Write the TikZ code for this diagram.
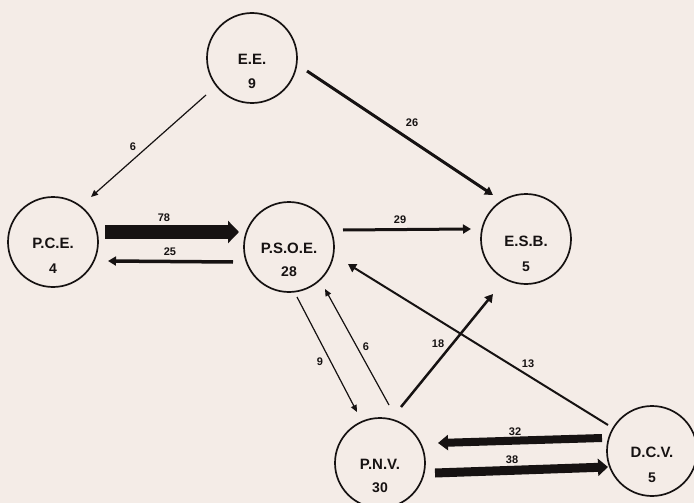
\documentclass[tikz,border=0pt]{standalone}
\usepackage{fontspec}
\setmainfont{Liberation Sans}
\usetikzlibrary{arrows.meta}
\definecolor{paper}{RGB}{244,236,231}
\definecolor{ink}{RGB}{22,18,18}
\begin{document}
\begin{tikzpicture}[x=1pt,y=-1pt,
  party/.style={circle,draw=ink,line width=1.7pt,minimum size=90pt,inner sep=0pt},
  pname/.style={font=\fontsize{15}{15}\selectfont\bfseries,text=ink,inner sep=0pt},
  pnum/.style={font=\fontsize{14}{14}\selectfont\bfseries,text=ink,inner sep=0pt},
  flowlbl/.style={font=\fontsize{11}{11}\selectfont\bfseries,text=ink,inner sep=0pt},
  fine/.style={draw=ink,line width=1.2pt,-{Triangle[length=7pt,width=6pt]}},
  medium/.style={draw=ink,-{Triangle[length=8pt,width=9pt]}},
  heavy/.style={draw=ink}
]
\fill[paper] (0,0) rectangle (694,503);
\useasboundingbox (0,0) rectangle (694,503);

% parties
\node[party] (ee)   at (252,58)  {};
\node[party] (pce)  at (53,242)  {};
\node[party] (psoe) at (289,247) {};
\node[party] (esb)  at (526,239) {};
\node[party] (pnv)  at (380,463) {};
\node[party] (dcv)  at (652,451) {};

\node[pname] (eel)   at ([yshift=-1pt]ee.center)   {E.E.};
\node[pnum]  (een)   at ([yshift=-26pt]ee.center)  {9};
\node[pname] (pcel)  at ([yshift=-1pt]pce.center)  {P.C.E.};
\node[pnum]  (pcen)  at ([yshift=-27pt]pce.center) {4};
\node[pname] (psoel) at ([yshift=-1pt]psoe.center) {P.S.O.E.};
\node[pnum]  (psoen) at ([yshift=-25pt]psoe.center){28};
\node[pname] (esbl)  at ([yshift=-2pt]esb.center)  {E.S.B.};
\node[pnum]  (esbn)  at ([yshift=-28pt]esb.center) {5};
\node[pname] (pnvl)  at ([yshift=-1pt]pnv.center)  {P.N.V.};
\node[pnum]  (pnvn)  at ([yshift=-25pt]pnv.center) {30};
\node[pname] (dcvl)  at ([yshift=-1pt]dcv.center)  {D.C.V.};
\node[pnum]  (dcvn)  at ([yshift=-27pt]dcv.center) {5};

% flows
\draw[fine] ([shift={(-46,37)}]ee.center) -- ([shift={(38,-45)}]pce.center);
\draw[medium,line width=3pt] ([shift={(55,13)}]ee.center) -- ([shift={(-33,-44)}]esb.center);
\draw[heavy,line width=14pt,-{Triangle[length=11pt,width=22pt]}] ([shift={(52,-10)}]pce.center) -- ([shift={(-50,-15)}]psoe.center);
\draw[medium,line width=3.5pt] ([shift={(-56,15)}]psoe.center) -- ([shift={(55,19)}]pce.center);
\draw[medium,line width=3pt] ([shift={(54,-17)}]psoe.center) -- ([shift={(-55,-10)}]esb.center);
\draw[fine] ([shift={(8,50)}]psoe.center) -- ([shift={(-23,-51)}]pnv.center);
\draw[fine] ([shift={(9,-58)}]pnv.center) -- ([shift={(36,42)}]psoe.center);
\draw[medium,line width=2.5pt] ([shift={(21,-56)}]pnv.center) -- ([shift={(-33,55)}]esb.center);
\draw[medium,line width=2pt] ([shift={(-44,-26)}]dcv.center) -- ([shift={(59,17)}]psoe.center);
\draw[heavy,line width=8pt,-{Triangle[length=10pt,width=15pt]}] ([shift={(-50,-13)}]dcv.center) -- ([shift={(58,-20)}]pnv.center);
\draw[heavy,line width=9pt,-{Triangle[length=10pt,width=17pt]}] ([shift={(55,10)}]pnv.center) -- ([shift={(-44,16)}]dcv.center);

% flow labels
\node[flowlbl] (f1)  at (133,147) {6};
\node[flowlbl] (f2)  at (412,123) {26};
\node[flowlbl] (f3)  at (164,218) {78};
\node[flowlbl] (f4)  at (170,252) {25};
\node[flowlbl] (f5)  at (400,220) {29};
\node[flowlbl] (f6)  at (320,362) {9};
\node[flowlbl] (f7)  at (366,347) {6};
\node[flowlbl] (f8)  at (438,344) {18};
\node[flowlbl] (f9)  at (528,364) {13};
\node[flowlbl] (f10) at (515,432) {32};
\node[flowlbl] (f11) at (512,460) {38};
\end{tikzpicture}
\end{document}
